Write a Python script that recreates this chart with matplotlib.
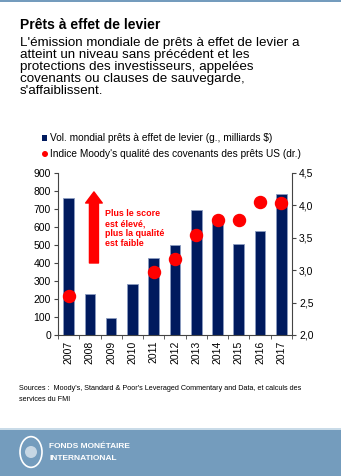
import matplotlib.pyplot as plt
import matplotlib.patches as mpatches
import numpy as np

years = ["2007", "2008", "2009", "2010", "2011", "2012", "2013", "2014", "2015", "2016", "2017"]
volume = [760, 230, 95, 285, 430, 500, 695, 635, 505, 578, 785]
covenant_years = ["2007", "2011", "2012", "2013", "2014", "2015", "2016", "2017"]
covenant_score = [2.60, 2.97, 3.18, 3.54, 3.77, 3.78, 4.06, 4.04]

navy = "#001a5e"
red = "#ff0000"

plt.rcParams['font.family'] = ['Liberation Sans', 'DejaVu Sans']

fig = plt.figure(figsize=(3.41, 4.76), dpi=100)

# bandeau du haut et du bas
fig.add_artist(mpatches.Rectangle((0, 1 - 2 / 476), 1, 2 / 476, transform=fig.transFigure,
                                  color="#749cbd", lw=0))
fig.add_artist(mpatches.Rectangle((0, 0), 1, 46 / 476, transform=fig.transFigure,
                                  color="#749cbd", lw=0))
fig.add_artist(mpatches.Rectangle((0, 46 / 476), 1, 2 / 476, transform=fig.transFigure,
                                  color="#c9dbe8", lw=0))

fig.text(20 / 341, 1 - 25 / 476, "Prêts à effet de levier", fontsize=10, fontweight="bold",
         va="center")
subtitle = ["L'émission mondiale de prêts à effet de levier a",
            "atteint un niveau sans précédent et les",
            "protections des investisseurs, appelées",
            "covenants ou clauses de sauvegarde,",
            "s'affaiblissent."]
for i, line in enumerate(subtitle):
    fig.text(20 / 341, 1 - (43 + 12 * i) / 476, line, fontsize=9.6, va="center")

ax = fig.add_axes([58 / 341, 1 - 335 / 476, (292 - 58) / 341, (335 - 173) / 476])
x = np.arange(len(years))
ax.bar(x, volume, width=0.5, color=navy, edgecolor="#8c9cc0", linewidth=0.6)
ax.set_ylim(0, 900)
ax.set_yticks(range(0, 901, 100))
ax.set_xlim(-0.5, len(years) - 0.5)
ax.set_xticks(x)
ax.set_xticklabels(years, rotation=90, fontsize=7.5)
ax.set_xticks(np.arange(-0.5, len(years), 1), minor=True)
ax.tick_params(axis="x", which="major", length=0, pad=4)
ax.tick_params(axis="x", which="minor", length=3, color="#444444")
ax.tick_params(axis="y", labelsize=7.5, length=3, color="#444444", pad=2)
for s in ["top", "right"]:
    ax.spines[s].set_visible(False)
for s in ["left", "bottom"]:
    ax.spines[s].set_color("#444444")
    ax.spines[s].set_linewidth(0.8)

ax2 = ax.twinx()
cx = [years.index(y) for y in covenant_years]
ax2.scatter(cx, covenant_score, s=75, color=red, zorder=5, clip_on=False)
ax2.set_ylim(2.0, 4.5)
ax2.set_yticks([2.0, 2.5, 3.0, 3.5, 4.0, 4.5])
ax2.set_yticklabels(["2,0", "2,5", "3,0", "3,5", "4,0", "4,5"])
ax2.tick_params(axis="y", labelsize=7.5, length=3, color="#444444", pad=2)
for s in ["top", "left", "bottom"]:
    ax2.spines[s].set_visible(False)
ax2.spines["right"].set_color("#444444")
ax2.spines["right"].set_linewidth(0.8)

# flèche et annotation
ax.annotate("", xy=(1.19, 795), xytext=(1.19, 400),
            arrowprops=dict(facecolor=red, edgecolor=red, width=6.5, headwidth=12,
                            headlength=8))
ax.text(1.7, 700, "Plus le score\nest élevé,\nplus la qualité\nest faible", color=red,
        fontsize=6.4, fontweight="bold", va="top", linespacing=1.15)

# légende
fig.add_artist(mpatches.Rectangle((42 / 341, 1 - 141 / 476), 5 / 341, 6 / 476,
                                  transform=fig.transFigure, color=navy, lw=0))
fig.text(50 / 341, 1 - 138 / 476, "Vol. mondial prêts à effet de levier (g., milliards $)",
         fontsize=7.3, va="center")
fig.add_artist(mpatches.Ellipse((45 / 341, 1 - 154 / 476), 6 / 341, 6 / 476,
                                transform=fig.transFigure, color=red, lw=0))
fig.text(50 / 341, 1 - 154 / 476, "Indice Moody's qualité des covenants des prêts US (dr.)",
         fontsize=7.3, va="center")

fig.text(19 / 341, 1 - 394 / 476,
         "Sources :  Moody's, Standard & Poor's Leveraged Commentary and Data, et calculs des\n"
         "services du FMI", fontsize=5.2, va="center", linespacing=1.8)

# logo FMI
fig.add_artist(mpatches.Circle((31 / 341, 1 - 452 / 476), 11 / 341, transform=fig.transFigure,
                               facecolor="none", edgecolor="white", lw=1.2))
fig.add_artist(mpatches.Ellipse((31 / 341, 1 - 452 / 476), 12 / 341, 12 / 476,
                                transform=fig.transFigure, facecolor="white", alpha=0.6, lw=0))
fig.text(49 / 341, 1 - 447 / 476, "FONDS MONÉTAIRE", color="white", fontsize=6,
         fontweight="bold", va="center")
fig.text(49 / 341, 1 - 458 / 476, "INTERNATIONAL", color="white", fontsize=6,
         fontweight="bold", va="center")

fig.savefig("out.png", dpi=100)
